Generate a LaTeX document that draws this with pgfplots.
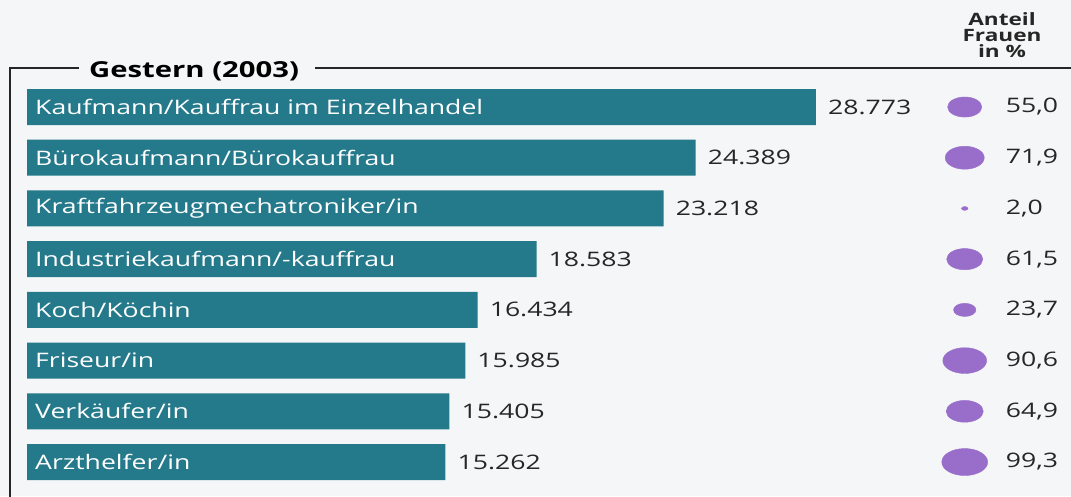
\documentclass[border=0pt]{standalone}
\usepackage{pgfplots}
\usepackage{pgfplotstable}
\pgfplotsset{compat=1.18}
\usepackage{fontspec}
\setmainfont{Open Sans}[FakeStretch=1.33]
\definecolor{barc}{RGB}{36,121,139}
\definecolor{bub}{RGB}{152,110,202}
\definecolor{bg}{RGB}{245,246,247}
\definecolor{txt}{RGB}{38,38,38}
\pgfplotstableread{
i v z label
0 28773 0 {Kaufmann/Kauffrau im Einzelhandel}
1 24389 0 {Bürokaufmann/Bürokauffrau}
2 23218 0 {Kraftfahrzeugmechatroniker/in}
3 18583 0 {Industriekaufmann/-kauffrau}
4 16434 0 {Koch/Köchin}
5 15985 0 {Friseur/in}
6 15405 0 {Verkäufer/in}
7 15262 0 {Arzthelfer/in}
}\bars
\pgfplotstableread{
i p bx
0 55.0 34200
1 71.9 34200
2 2.0 34200
3 61.5 34200
4 23.7 34200
5 90.6 34200
6 64.9 34200
7 99.3 34200
}\pct
\begin{document}
\begin{tikzpicture}
\fill[bg] (0,0) rectangle (1071pt,-496pt);
\useasboundingbox (0,0) rectangle (1071pt,-496pt);
\draw[line width=1.6pt, txt] (10pt,-500pt) -- (10pt,-68pt) -- (79pt,-68pt);
\draw[line width=1.6pt, txt] (315pt,-68pt) -- (1075pt,-68pt);
\node[anchor=base west, inner sep=0, font=\bfseries\fontsize{22}{26}\selectfont, text=black] at (89pt,-77pt) {Gestern (2003)};
\node[anchor=base, inner sep=0, font=\bfseries\fontsize{17}{19}\selectfont, text=txt] at (1002pt,-25pt) {Anteil};
\node[anchor=base, inner sep=0, font=\bfseries\fontsize{17}{19}\selectfont, text=txt] at (1002pt,-41pt) {Frauen};
\node[anchor=base, inner sep=0, font=\bfseries\fontsize{17}{19}\selectfont, text=txt] at (1002pt,-57pt) {in \%};
\begin{axis}[at={(0,0)}, anchor=north west, scale only axis,
  width=1071pt, height=496pt, hide axis,
  xmin=-985, xmax=38075, ymin=-2.11, ymax=7.67, y dir=reverse, clip=false]
\addplot[xbar, bar width=36pt, fill=barc, draw=none,
  point meta=x,
  nodes near coords={\pgfmathprintnumber[assume math mode=true,1000 sep={.}]{\pgfplotspointmeta}},
  nodes near coords align=horizontal,
  nodes near coords style={anchor=west, inner sep=0, xshift=12pt, text=txt, font=\fontsize{20}{24}\selectfont}]
  table[x=v, y=i] {\bars};
\addplot[draw=none, point meta=explicit symbolic,
  nodes near coords,
  nodes near coords style={anchor=west, inner sep=0, xshift=8pt, text=white, font=\fontsize{20}{24}\selectfont}]
  table[x=z, y=i, meta=label] {\bars};
\addplot[scatter, only marks, mark=*,
  scatter/use mapped color={draw=bub, fill=bub},
  mark options={draw=bub, fill=bub},
  point meta=\thisrow{p},
  visualization depends on={13.5*sqrt(\thisrow{p}/99.3)\as\rad},
  scatter/@pre marker code/.append style={/tikz/mark size=\rad, /tikz/xscale=1.7}]
  table[x=bx, y=i] {\pct};
\addplot[draw=none, point meta=\thisrow{p},
  nodes near coords={\pgfmathprintnumber[fixed,fixed zerofill,precision=1,dec sep={,},assume math mode=true]{\pgfplotspointmeta}},
  nodes near coords style={anchor=west, inner sep=0, xshift=41pt, text=txt, font=\fontsize{20}{24}\selectfont}]
  table[x=bx, y=i] {\pct};
\end{axis}
\end{tikzpicture}
\end{document}
